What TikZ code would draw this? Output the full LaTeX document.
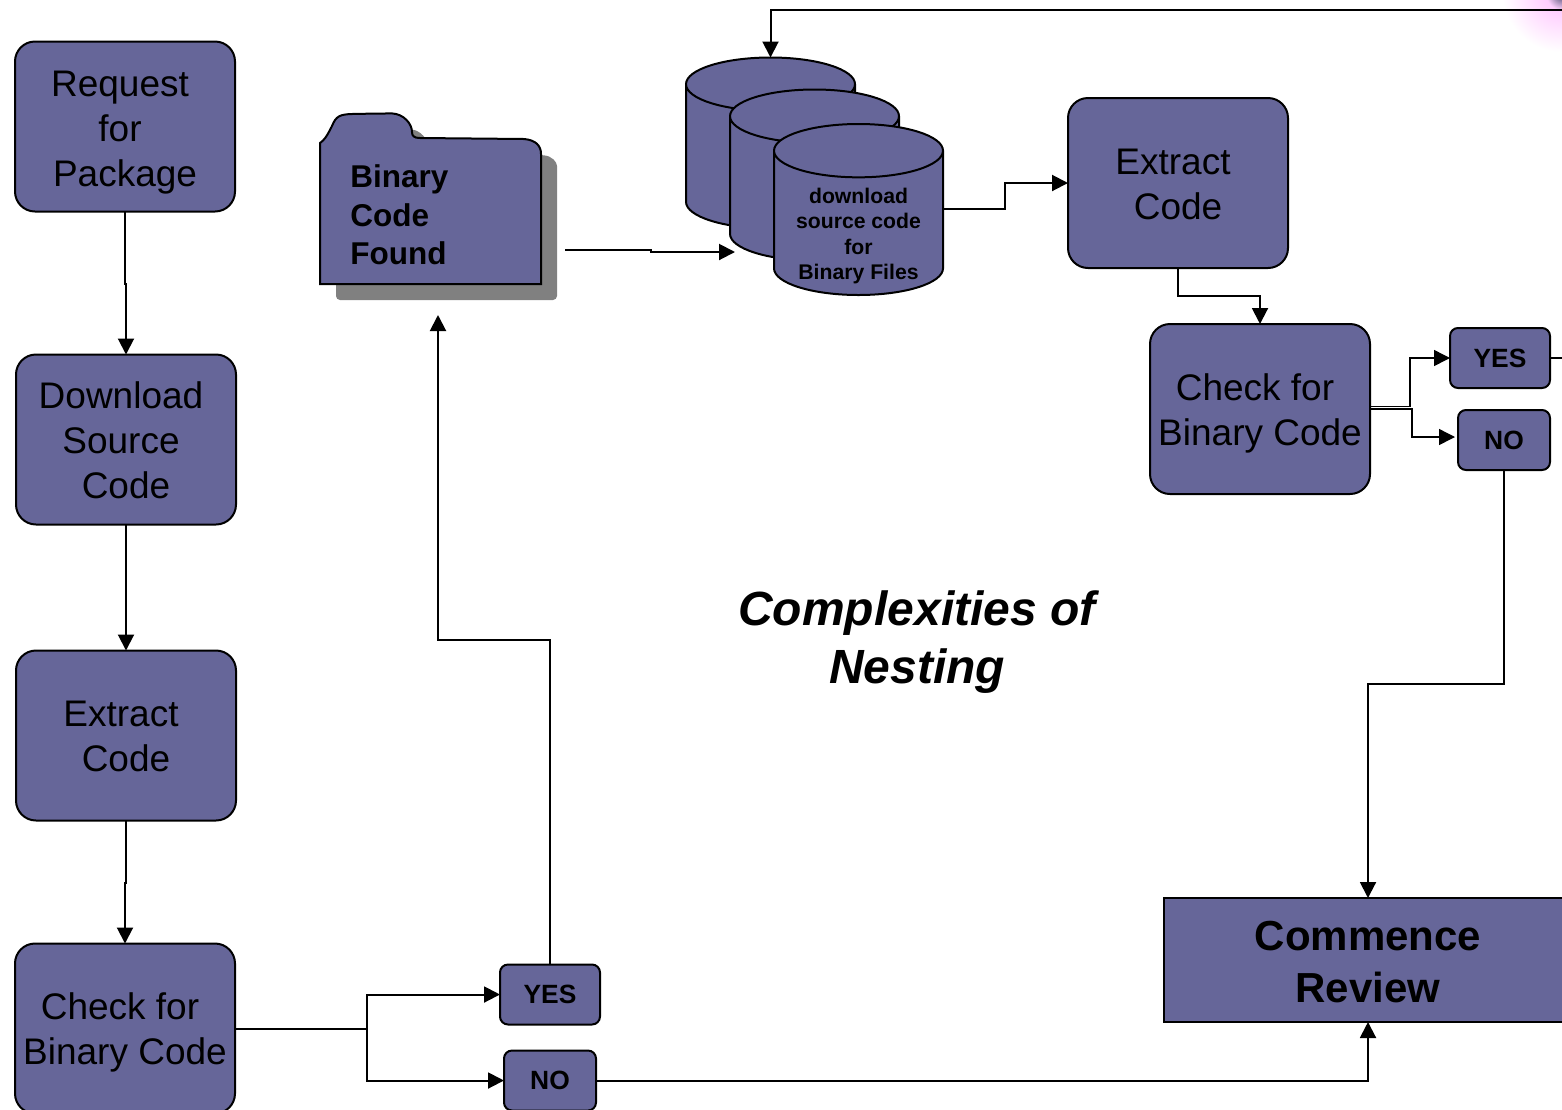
\documentclass[tikz,border=0pt]{standalone}
\usepackage{fontspec}
\setmainfont{Liberation Sans}
\usetikzlibrary{positioning,calc,arrows.meta,shapes.geometric}
\definecolor{boxblue}{RGB}{102,102,153}
\newcommand{\trail}{\hbox to 5pt{}}
\newcommand{\lead}[1]{\rule{0pt}{#1}}
\newcommand{\folderpath}{(160,-142) -- (160,-71.5) .. controls (162,-70) and (163,-69) .. (166,-63) .. controls (168,-58) and (170,-57.2) .. (176,-57) .. controls (185,-56.8) and (190,-56.8) .. (196,-56.7) .. controls (202,-57) and (206,-62) .. (206,-66) .. controls (206,-68) and (207,-69) .. (210,-69) -- (262,-69.5) .. controls (268,-70) and (270.5,-73) .. (270.5,-77) -- (270.5,-142) -- cycle}
\tikzset{
    bigbox/.style={
        draw, line width=1pt, rounded corners=10pt, fill=boxblue, outer sep=0pt,
        minimum width=110pt, minimum height=85pt,
        align=center, font=\fontsize{18.5}{22.5}\selectfont
    },
    smallbox/.style={
        draw, line width=1pt, rounded corners=4pt, fill=boxblue, outer sep=0pt,
        minimum width=50pt, minimum height=30pt,
        font=\fontsize{13.2}{16}\selectfont\bfseries
    },
    dbstack/.style={
        draw, line width=1pt, fill=boxblue, cylinder, shape border rotate=90, aspect=4,
        minimum width=84.5pt, minimum height=85.5pt, outer sep=0pt, anchor=shape center
    },
    arrow/.style={-{Triangle[length=8pt,width=8pt]}, line width=1pt},
    plain/.style={line width=1pt},
}
\begin{document}
\begin{tikzpicture}
\useasboundingbox (0,0) rectangle (781pt,-554.5pt);
\clip (0,0) rectangle (781pt,-554.5pt);
\tikzset{x=1pt,y=1pt}

% ===============================
%        corner flare (top right)
% ===============================

\shade[inner color=magenta!28!white, outer color=white] (781,4) circle (30);
\shade[inner color=boxblue!70!black, outer color=magenta!18!white] (781,3) circle (8);

% ===============================
%         first pass (left)
% ===============================

\node[bigbox] (request) at (62.5,-63.25) {\lead{19pt}Request\trail\\for\trail\\Package};

\node[bigbox, below=71.5pt of request, xshift=.5pt] (download)
    {\lead{14.5pt}Download\trail\\Source\trail\\Code};

\node[bigbox, below=63pt of download] (extract) {\lead{13.5pt}Extract\trail\\Code};

\node[bigbox, below=61.5pt of extract, xshift=-.5pt] (check)
    {\lead{17.5pt}Check for\trail\\Binary Code};

\node[smallbox, right=132.5pt of check, yshift=17pt] (yes) {YES};

\node[smallbox, below=13pt of yes, minimum width=46pt] (no) {NO};


% ===============================
%              folder
% ===============================

\fill[black!50, rounded corners=2pt, shift={(8,-8)}] \folderpath;
\draw[line width=1pt, fill=boxblue] \folderpath;

\node[anchor=west, align=left, inner sep=0pt, font=\fontsize{15.75}{19.25}\selectfont\bfseries]
    (folder) at (175,-107.5) {Binary\\Code\\Found};

\coordinate (folderin) at (219,-157.5);
\coordinate (folderout) at (282.5,-125);


% ===============================
%          database stack
% ===============================

\node[dbstack] (db1) at (385.25,-71.5) {};
\node[dbstack] (db2) at (407.25,-87.5) {};
\node[dbstack] (db3) at (429.25,-104.75) {};

\node[align=center, inner sep=0pt, font=\fontsize{10.6}{12.8}\selectfont\bfseries]
    (dbtext) at (429.25,-118) {download\\source code\\for\\Binary Files};

\coordinate (dbin) at (367.5,-126);


% ===============================
%         second pass (right)
% ===============================

\node[bigbox] (extractb) at (589,-91.5) {\lead{14.5pt}Extract\trail\\Code};

\node[bigbox, below=28pt of extractb, xshift=41pt] (checkb)
    {\lead{17.5pt}Check for\trail\\Binary Code};

\node[smallbox, right=40pt of checkb, yshift=25.5pt] (yesb) {YES};

\node[smallbox, below=11pt of yesb, xshift=2pt, minimum width=46pt] (nob) {NO};

\node[draw, line width=1pt, fill=boxblue, minimum width=204pt, minimum height=62pt, outer sep=0pt,
    align=center, font=\fontsize{21}{26}\selectfont\bfseries]
    (review) at (684,-480) {\lead{16.3pt}Commence\\Review};

\coordinate (yesbout) at (781,-179);
\coordinate (topin) at (781,-5);


% ===============================
%              title
% ===============================

\node[align=center, font=\fontsize{24}{29}\selectfont\bfseries\itshape]
    (title) at (458.5,-321) {Complexities of\\Nesting};


% ===============================
%              arrows
% ===============================

\draw[arrow] (request.south) -- ++(0,-36) -| (download.north);
\draw[arrow] (download.south) -- (extract.north);
\draw[arrow] (extract.south) -- ++(0,-31) -| (check.north);

\draw[arrow] (check.east) -- ++(66,0) |- (yes.west);
\draw[arrow] (check.east) -- ++(66,0) |- (no.west);

\draw[arrow] (yes.north) -- ++(0,162.5) -| (folderin);
\draw[arrow] (no.east) -| (review.south);

\draw[arrow] (folderout) -- ++(43,0) |- (dbin);
\draw[arrow] ([yshift=10pt]db3.east) -- ++(31,0) |- (extractb.west);
\draw[arrow] (extractb.south) -- ++(0,-14) -| (checkb.north);

\draw[arrow, line width=.7pt] ([yshift=1.4pt]checkb.east) -- ++(20,0) |- (yesb.west);
\draw[arrow, line width=.7pt, shorten >=1.5pt] ([yshift=.1pt]checkb.east) -- ++(21,0) |- ([yshift=1.5pt]nob.west);

\draw[arrow] (nob.south) -- ++(0,-107) -| (review.north);

\draw[plain] (yesb.east) -- (yesbout);
\draw[arrow] (topin) -| (db1.north);

\end{tikzpicture}
\end{document}
